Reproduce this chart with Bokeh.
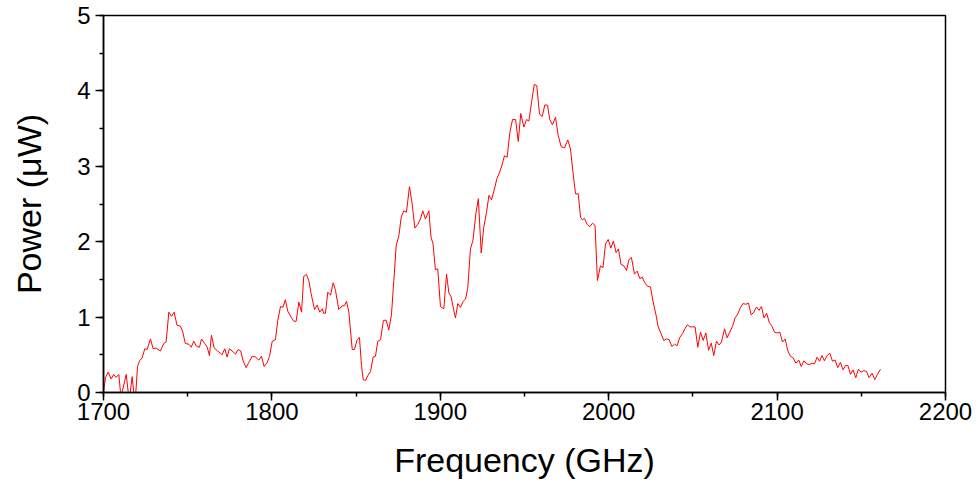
from bokeh.plotting import figure
from bokeh.models import SingleIntervalTicker, Range1d
from bokeh.embed import file_html
from bokeh.resources import INLINE

freq_ghz = [
    1700.0, 1701.2, 1702.8, 1704.5, 1706.1, 1707.5, 1709.1, 1710.1, 1711.0, 1713.5,
    1714.7, 1715.9, 1717.0, 1718.0, 1719.2, 1720.2, 1721.4, 1723.0, 1724.5, 1725.9,
    1727.9, 1729.5, 1731.2, 1733.8, 1735.8, 1737.2, 1738.8, 1740.4, 1741.9, 1743.7,
    1745.7, 1747.1, 1748.6, 1750.7, 1752.1, 1753.6, 1755.0, 1757.0, 1758.2, 1760.1,
    1761.6, 1762.9, 1764.1, 1765.7, 1767.7, 1769.5, 1770.4, 1772.0, 1773.4, 1774.8,
    1776.4, 1778.4, 1780.0, 1781.5, 1782.9, 1784.7, 1786.3, 1788.3, 1790.3, 1792.2,
    1793.8, 1795.4, 1797.2, 1798.6, 1800.2, 1802.1, 1803.5, 1805.1, 1806.6, 1808.0,
    1809.4, 1811.4, 1813.0, 1814.4, 1816.0, 1817.6, 1818.9, 1820.5, 1821.9, 1823.3,
    1825.3, 1826.9, 1828.4, 1829.9, 1830.8, 1831.8, 1833.2, 1834.8, 1836.4, 1837.8,
    1839.7, 1841.7, 1843.1, 1844.3, 1845.7, 1847.7, 1849.0, 1850.6, 1852.0, 1853.2,
    1854.2, 1855.6, 1857.0, 1858.6, 1860.1, 1861.5, 1862.9, 1864.5, 1866.2, 1867.8,
    1869.4, 1871.0, 1872.4, 1873.8, 1875.4, 1876.8, 1878.3, 1879.9, 1881.7, 1883.3,
    1884.9, 1886.6, 1888.2, 1889.6, 1891.2, 1893.2, 1894.5, 1895.7, 1897.1, 1898.5,
    1900.1, 1902.1, 1903.7, 1905.1, 1906.4, 1908.0, 1909.0, 1910.4, 1912.0, 1913.6,
    1915.0, 1916.3, 1917.9, 1919.4, 1921.1, 1922.6, 1924.3, 1925.8, 1927.4, 1928.9,
    1930.4, 1932.0, 1933.6, 1935.0, 1936.3, 1938.1, 1939.7, 1941.3, 1942.9, 1944.7,
    1946.3, 1947.8, 1949.6, 1951.2, 1952.6, 1954.2, 1955.8, 1957.3, 1958.9, 1960.5,
    1962.1, 1963.7, 1965.0, 1966.6, 1968.4, 1970.0, 1971.8, 1973.8, 1975.7, 1977.3,
    1978.9, 1980.3, 1981.9, 1983.3, 1984.3, 1985.6, 1987.2, 1988.8, 1990.4, 1991.9,
    1993.3, 1995.1, 1996.6, 1998.1, 1999.7, 2001.3, 2002.8, 2004.4, 2005.8, 2007.3,
    2009.0, 2010.6, 2012.0, 2013.5, 2015.3, 2016.9, 2018.5, 2019.9, 2021.3, 2022.9,
    2024.8, 2026.4, 2028.0, 2029.4, 2031.1, 2032.7, 2034.3, 2035.9, 2037.5, 2039.1,
    2040.6, 2042.2, 2043.8, 2045.2, 2046.8, 2048.1, 2049.7, 2051.3, 2052.9, 2054.5,
    2056.1, 2057.7, 2059.3, 2060.9, 2062.4, 2064.0, 2065.6, 2067.0, 2068.8, 2070.3,
    2071.9, 2073.5, 2075.1, 2076.6, 2078.3, 2079.8, 2081.4, 2083.0, 2084.6, 2086.2,
    2087.8, 2089.3, 2090.7, 2092.2, 2093.8, 2095.4, 2096.7, 2098.5, 2100.0, 2101.6,
    2103.2, 2104.8, 2106.4, 2108.0, 2109.5, 2111.1, 2112.9, 2114.3, 2115.9, 2117.5,
    2119.1, 2120.8, 2122.2, 2123.8, 2125.2, 2126.7, 2128.1, 2129.7, 2131.3, 2132.9,
    2134.5, 2136.0, 2137.6, 2139.2, 2140.6, 2142.0, 2143.6, 2145.1, 2146.7, 2148.3,
    2149.9, 2151.5, 2153.1, 2154.6, 2156.4, 2158.0, 2159.6, 2161.4,
]

power_uw = [
    0.0, 0.20, 0.27, 0.18, 0.24, 0.20, 0.24, 0.0, 0.0, 0.24,
    0.0, 0.0, 0.21, 0.0, 0.0, 0.345, 0.42, 0.46, 0.58, 0.57,
    0.71, 0.58, 0.59, 0.55, 0.65, 0.67, 1.065, 1.01, 1.065, 0.89,
    0.88, 0.80, 0.65, 0.64, 0.60, 0.68, 0.62, 0.60, 0.71, 0.65,
    0.60, 0.49, 0.76, 0.59, 0.55, 0.52, 0.50, 0.58, 0.47, 0.58,
    0.55, 0.51, 0.57, 0.55, 0.42, 0.33, 0.40, 0.48, 0.47, 0.43,
    0.48, 0.345, 0.40, 0.48, 0.68, 0.70, 0.955, 1.14, 1.13, 1.23,
    1.08, 1.00, 0.945, 0.945, 1.20, 1.065, 1.54, 1.565, 1.485, 1.31,
    1.10, 1.16, 1.065, 1.11, 1.05, 1.05, 1.33, 1.29, 1.455, 1.35,
    1.10, 1.15, 1.15, 1.21, 1.065, 0.57, 0.57, 0.70, 0.73, 0.36,
    0.17, 0.16, 0.225, 0.28, 0.47, 0.48, 0.68, 0.70, 0.955, 0.96,
    0.83, 1.03, 1.485, 1.95, 2.08, 2.325, 2.41, 2.39, 2.73, 2.50,
    2.18, 2.23, 2.30, 2.41, 2.30, 2.41, 2.06, 1.97, 1.63, 1.64,
    1.14, 1.11, 1.57, 1.32, 1.27, 1.09, 0.99, 1.18, 1.13, 1.21,
    1.24, 1.38, 1.905, 2.02, 2.37, 2.57, 1.85, 2.19, 2.385, 2.615,
    2.555, 2.685, 2.835, 2.91, 2.99, 3.14, 3.12, 3.45, 3.62, 3.62,
    3.33, 3.70, 3.52, 3.62, 3.60, 3.85, 4.085, 4.07, 3.69, 3.66,
    3.815, 3.81, 3.62, 3.55, 3.65, 3.41, 3.26, 3.245, 3.35, 3.23,
    2.90, 2.635, 2.635, 2.325, 2.29, 2.31, 2.23, 2.20, 2.245, 2.215,
    1.485, 1.68, 1.655, 1.97, 2.03, 1.915, 2.01, 1.855, 1.905, 1.70,
    1.68, 1.62, 1.76, 1.79, 1.57, 1.61, 1.51, 1.53, 1.46, 1.41,
    1.40, 1.20, 1.04, 0.87, 0.78, 0.69, 0.71, 0.70, 0.61, 0.64,
    0.62, 0.73, 0.78, 0.845, 0.90, 0.87, 0.87, 0.87, 0.60, 0.80,
    0.69, 0.79, 0.56, 0.655, 0.49, 0.68, 0.63, 0.67, 0.845, 0.725,
    0.80, 0.875, 0.99, 1.04, 1.13, 1.18, 1.17, 1.185, 1.03, 1.065,
    1.135, 1.09, 1.14, 0.99, 1.05, 0.925, 0.89, 0.80, 0.79, 0.80,
    0.67, 0.71, 0.55, 0.48, 0.46, 0.39, 0.43, 0.345, 0.42, 0.38,
    0.37, 0.39, 0.38, 0.47, 0.415, 0.49, 0.42, 0.49, 0.52, 0.415,
    0.43, 0.33, 0.40, 0.30, 0.36, 0.36, 0.24, 0.30, 0.195, 0.31,
    0.27, 0.29, 0.28, 0.195, 0.255, 0.17, 0.24, 0.31,
]

x_label = "Frequency (GHz)"
y_label = "Power (\u03bcW)"

FONT = "Liberation Sans"

p = figure(
    width=980, height=486,
    output_backend="svg", toolbar_location=None,
    x_range=Range1d(1700, 2200), y_range=Range1d(0, 5),
    min_border_left=103, min_border_right=35,
    min_border_top=15, min_border_bottom=94,
)

p.line(freq_ghz, power_uw, line_color="#ff0000", line_width=1)

p.xgrid.visible = False
p.ygrid.visible = False
p.outline_line_color = "black"
p.outline_line_width = 1.5
p.outline_line_alpha = 1

p.xaxis.ticker = SingleIntervalTicker(interval=100, num_minor_ticks=2)
p.yaxis.ticker = SingleIntervalTicker(interval=1, num_minor_ticks=2)

for ax in (p.xaxis[0], p.yaxis[0]):
    ax.axis_line_color = "black"
    ax.axis_line_width = 1.5
    ax.major_tick_line_color = "black"
    ax.major_tick_line_width = 1.5
    ax.minor_tick_line_color = "black"
    ax.minor_tick_line_width = 1.5
    ax.major_tick_in = 0
    ax.major_tick_out = 8
    ax.minor_tick_in = 0
    ax.minor_tick_out = 4
    ax.major_label_text_font = FONT
    ax.major_label_text_font_size = "24px"
    ax.major_label_text_color = "black"
    ax.axis_label_text_font = FONT
    ax.axis_label_text_font_size = "34px"
    ax.axis_label_text_font_style = "normal"
    ax.axis_label_text_color = "black"

p.xaxis.axis_label = x_label
p.yaxis.axis_label = y_label
p.xaxis.major_label_standoff = 2
p.yaxis.major_label_standoff = 5
p.xaxis.axis_label_standoff = 18
p.yaxis.axis_label_standoff = 26

p.background_fill_color = "white"
p.border_fill_color = "white"

open("out.html", "w").write(file_html(p, INLINE))
